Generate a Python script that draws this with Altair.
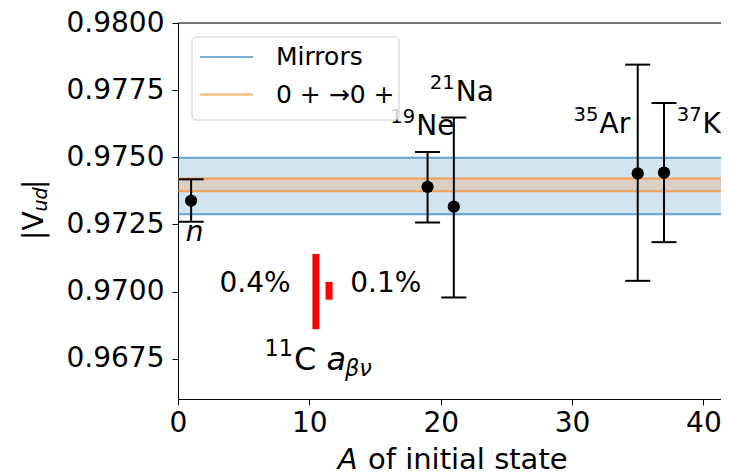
import altair as alt
import pandas as pd

FONT = "DejaVu Sans"

# ---- data ----
A_vals = [1, 19, 21, 35, 37]
Vud = [0.97338, 0.97390, 0.97316, 0.97440, 0.97443]
Vud_lo = [0.97260, 0.97257, 0.96978, 0.97040, 0.97184]
Vud_hi = [0.97418, 0.97520, 0.97648, 0.97845, 0.97702]

band_names = ["Mirrors", "0 + \u21920 +"]
band_lo = [0.97288, 0.97374]
band_hi = [0.97498, 0.97421]
band_colors = ["#1f77b4", "#ff7f0e"]

c11_x = [10.5, 11.5]
c11_lo = [0.9686, 0.9697]
c11_hi = [0.9714, 0.97036]

nuc_names = ["Ne", "Na", "Ar", "K"]
nuc_mass = ["19", "21", "35", "37"]
nuc_x = [18.14, 21.15, 32.09, 39.94]
nuc_y = [0.97583, 0.97711, 0.97589, 0.97589]

n_label = ["n"]
n_x = [1.26]
n_y = [0.97189]

pct_text = ["0.4%", "0.1%"]
pct_x = [5.87, 13.11]
pct_y = [0.9700, 0.9700]
pct_align = ["center", "left"]

c11_label_x = [8.83, 11.3, 12.71]
c11_label_y = [0.96708, 0.96708, 0.96708]

x_ticks = [0, 10, 20, 30, 40]
y_ticks = [0.9675, 0.9700, 0.9725, 0.9750, 0.9775, 0.9800]
x_domain = [0, 41.34]   # visible part of the axis (cropped on the right in the reference)
y_domain = [0.966, 0.98]

# ---- tables ----
pts = pd.DataFrame({"A": A_vals, "V": Vud, "lo": Vud_lo, "hi": Vud_hi})
bands = pd.DataFrame({"series": band_names, "lo": band_lo, "hi": band_hi})
edges = pd.DataFrame({
    "series": band_names + band_names,
    "y": band_lo + band_hi,
})
red = pd.DataFrame({"x": c11_x, "lo": c11_lo, "hi": c11_hi})
nuc = pd.DataFrame({"x": nuc_x, "y": nuc_y, "name": nuc_names, "mass": nuc_mass})
ndf = pd.DataFrame({"x": n_x, "y": n_y, "t": n_label})
pct = pd.DataFrame({"x": pct_x, "y": pct_y, "t": pct_text, "al": pct_align})
c11a = pd.DataFrame({"x": [c11_label_x[0]], "y": [c11_label_y[0]], "t": ["C"], "s": ["11"]})
c11b = pd.DataFrame({"x": [c11_label_x[1]], "y": [c11_label_y[1]], "t": ["a"]})
c11c = pd.DataFrame({"x": [c11_label_x[2]], "y": [c11_label_y[2]], "t": ["\u03b2\u03bd"]})

xscale = alt.Scale(domain=x_domain, nice=False, zero=False)
yscale = alt.Scale(domain=y_domain, nice=False, zero=False)

xaxis = alt.Axis(values=x_ticks, format="d", labelFontSize=28, tickSize=6,
                 labelPadding=4, title=None, grid=False, domainColor="black",
                 tickColor="black", domainWidth=1, labelFont=FONT, labelColor="black",
                 labelFlush=False)
yaxis = alt.Axis(values=y_ticks, format=".4f", labelFontSize=28, tickSize=6,
                 labelPadding=8, title=None, grid=False, domainColor="black",
                 tickColor="black", domainWidth=1, labelFont=FONT, labelColor="black",
                 labelFlush=False)

def X(f):
    return alt.X(f, scale=xscale, axis=xaxis)

def Y(f):
    return alt.Y(f, scale=yscale, axis=yaxis)

# bands
layers = []
for name, col in zip(band_names, band_colors):
    layers.append(
        alt.Chart(bands).transform_filter(alt.datum.series == name)
        .mark_rect(fill=col, opacity=0.2)
        .encode(y=Y("lo:Q"), y2="hi:Q")
    )
for name, col in zip(band_names, band_colors):
    layers.append(
        alt.Chart(edges).transform_filter(alt.datum.series == name)
        .mark_rule(color=col, strokeWidth=2, opacity=0.65)
        .encode(y=Y("y:Q"))
    )

err_lines = alt.Chart(pts).mark_rule(color="black", strokeWidth=2).encode(
    x=X("A:Q"), y=Y("lo:Q"), y2="hi:Q")
cap_lo = alt.Chart(pts).mark_tick(color="black", orient="horizontal", size=25,
                                  thickness=2, opacity=1).encode(x=X("A:Q"), y=Y("lo:Q"))
cap_hi = alt.Chart(pts).mark_tick(color="black", orient="horizontal", size=25,
                                  thickness=2, opacity=1).encode(x=X("A:Q"), y=Y("hi:Q"))
dots = alt.Chart(pts).mark_point(filled=True, color="black", size=150, opacity=1).encode(
    x=X("A:Q"), y=Y("V:Q"))

red_bars = alt.Chart(red).mark_rule(color="red", strokeWidth=7).encode(
    x=X("x:Q"), y=Y("lo:Q"), y2="hi:Q")

def txt(df, size=28, align="left", style="normal", dx=0, dy=0, field="t"):
    return alt.Chart(df).mark_text(font=FONT, fontSize=size, align=align,
                                   baseline="alphabetic", fontStyle=style,
                                   color="black", dx=dx, dy=dy).encode(
        x=X("x:Q"), y=Y("y:Q"), text=f"{field}:N")

nuc_main = txt(nuc, field="name")
nuc_sup = txt(nuc, size=19.6, align="right", dx=-1, dy=-12, field="mass")
n_txt = txt(ndf, align="center", style="italic")
pct_c = txt(pct[pct["al"] == "center"], align="center")
pct_l = txt(pct[pct["al"] == "left"], align="left")
c_main = txt(c11a, size=32)
c_sup = txt(c11a, size=22.4, align="right", dx=-1, dy=-14, field="s")
a_txt = txt(c11b, size=32, style="italic")
bn_txt = txt(c11c, size=22.4, style="italic", dy=6)

# frame: top spine
top_spine = alt.Chart(pd.DataFrame({"k": [0]})).mark_rule(color="black", strokeWidth=1).encode(
    y=alt.value(0))

# axis titles drawn as text (mixed italic/subscript)
def vtxt(t, x, y, size=28, style="normal", align="left", angle=0, baseline="alphabetic"):
    return alt.Chart(pd.DataFrame({"t": [t]})).mark_text(
        font=FONT, fontSize=size, fontStyle=style, align=align,
        baseline=baseline, angle=angle, color="black").encode(
        x=alt.value(x), y=alt.value(y), text="t:N")

xt1 = vtxt("A", 179.5, 446, size=29, style="italic", align="right")
xt2 = vtxt("of initial state", 190, 446, size=29)
yt1 = vtxt("|V", -135, 217, angle=270)
yt2 = vtxt("ud", -131, 188.5, size=19, style="italic", angle=270)
yt3 = vtxt("|", -135, 166, angle=270)

# legend drawn by hand (matplotlib style box)
leg_box = alt.Chart(pd.DataFrame({"k": [0]})).mark_rect(
    fill="white", fillOpacity=0.8, stroke="#cccccc", strokeWidth=1, cornerRadius=4).encode(
    x=alt.value(14), x2=alt.value(221), y=alt.value(14), y2=alt.value(97))
leg_items = []
for i, (name, col) in enumerate(zip(band_names, band_colors)):
    yy = 34 + i * 37.5
    leg_items.append(
        alt.Chart(pd.DataFrame({"k": [0]})).mark_rule(color=col, strokeWidth=2, opacity=0.6)
        .encode(x=alt.value(22), x2=alt.value(75), y=alt.value(yy))
    )
    leg_items.append(vtxt(name, 98, yy, size=25, baseline="middle"))

chart = alt.layer(
    *layers, err_lines, cap_lo, cap_hi, dots, red_bars,
    nuc_main, nuc_sup, n_txt, pct_c, pct_l, c_main, c_sup, a_txt, bn_txt,
    top_spine, leg_box, *leg_items,
    xt1, xt2, yt1, yt2, yt3,
).properties(
    width=543, height=376,
    padding={"left": 170, "top": 15, "right": 0, "bottom": 80},
    autosize="none",
).configure_view(stroke=None).configure(background="white")

chart.save("out.html", embed_options={"renderer": "svg", "actions": False})
